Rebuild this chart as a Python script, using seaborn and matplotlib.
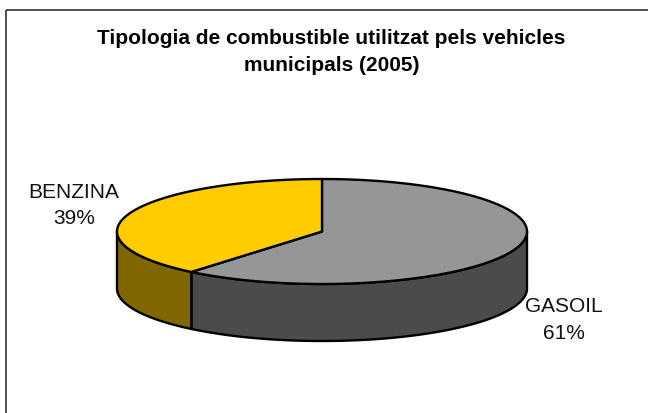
import numpy as np
import seaborn as sns
import matplotlib.pyplot as plt

# Data
fuel_labels = ["GASOIL", "BENZINA"]
fuel_shares = [61, 39]
top_colors = ["#969696", "#FFCC00"]
side_colors = ["#4B4B4B", "#806600"]

sns.set_theme(style="white")
plt.rcParams['font.family'] = ['Liberation Sans', 'DejaVu Sans']

fig = plt.figure(figsize=(6.48, 4.14), dpi=100)
ax = fig.add_axes([0, 0, 1, 1])
ax.set_xlim(0, 648)
ax.set_ylim(414, 0)
ax.axis("off")

# pie geometry, in pixels
cx, cy, rx, ry, depth = 322, 232.5, 205, 52.5, 57


def rim(t):
    return cx + rx * np.sin(t), cy - ry * np.cos(t)


# frame
ax.plot([6, 6], [414, 10.5], color="#303030", lw=1.2, solid_capstyle="butt")
ax.plot([6, 648], [10.5, 10.5], color="#303030", lw=1.2, solid_capstyle="butt")

fractions = np.array(fuel_shares) / sum(fuel_shares)
edges = np.concatenate([[0], np.cumsum(fractions)]) * 2 * np.pi

# sides first, only the front half of the rim is visible
for i in range(len(fuel_shares)):
    lo = max(edges[i], np.pi / 2)
    hi = min(edges[i + 1], 3 * np.pi / 2)
    if hi > lo:
        t = np.linspace(lo, hi, 200)
        x, y = rim(t)
        ax.fill(np.r_[x, x[::-1]], np.r_[y, (y + depth)[::-1]], facecolor=side_colors[i],
                edgecolor="black", lw=1.7, joinstyle="round", zorder=2)

# tops
for i in range(len(fuel_shares)):
    t = np.linspace(edges[i], edges[i + 1], 300)
    x, y = rim(t)
    ax.fill(np.r_[cx, x], np.r_[cy, y], facecolor=top_colors[i],
            edgecolor="black", lw=1.7, joinstyle="round", zorder=3)

ax.text(331.5, 52, "Tipologia de combustible utilitzat pels vehicles\nmunicipals (2005)",
        ha="center", va="center", fontsize=15, fontweight="bold", color="black", linespacing=1.52)

ax.text(564, 320, f"{fuel_labels[0]}\n{fuel_shares[0]}%", ha="center", va="center",
        fontsize=15, color="#111111", linespacing=1.47)
ax.text(74, 205.5, f"{fuel_labels[1]}\n{fuel_shares[1]}%", ha="center", va="center",
        fontsize=15, color="#111111", linespacing=1.47)

fig.savefig("out.png", dpi=100)
plt.close(fig)
